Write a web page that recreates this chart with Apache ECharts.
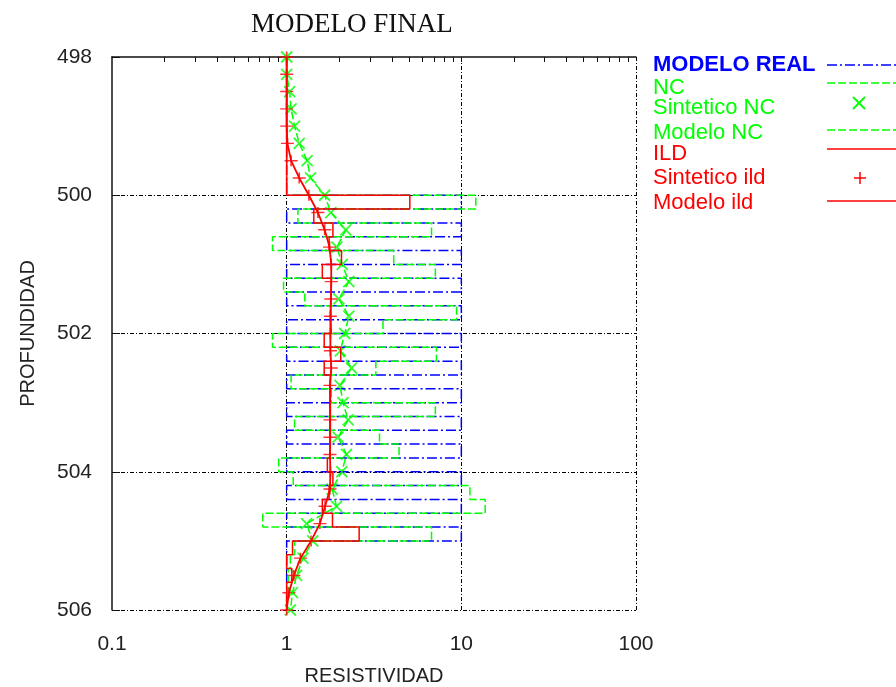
<!DOCTYPE html>
<html>
<head>
<meta charset="utf-8">
<title>Modelo final</title>
<script src="https://cdn.jsdelivr.net/npm/echarts@6/dist/echarts.min.js"></script>
<style>
  body { margin: 0; background: #fff; }
  #main { width: 896px; height: 687px; }
</style>
</head>
<body>
<div id="main"></div>
<script>
// limites de las capas (profundidad)
const limitesCapa = [498, 500.0, 500.2, 500.4, 500.6, 500.8, 501.0, 501.2, 501.4, 501.6, 501.8,
    502.0, 502.2, 502.4, 502.6, 502.8, 503.0, 503.2, 503.4, 503.6, 503.8,
    504.0, 504.2, 504.4, 504.6, 504.8, 505.0, 505.2, 505.4, 505.6, 505.8, 506];

// resistividad de cada capa
const modeloReal = [1, 10, 1, 10, 1, 10, 1, 10, 1, 10, 1, 10, 1, 10, 1, 10, 1, 10, 1, 10, 1,
    10, 1, 10, 1, 10, 1, 1, 1, 1, 1];
const modeloNC = [1.0, 12.1, 1.16, 6.75, 0.83, 4.1, 7.1, 0.96, 1.27, 9.4, 3.56, 0.83, 7.2, 3.24,
    1.06, 1.8, 7.1, 1.11, 3.4, 4.4, 0.9, 1.09, 11.2, 13.7, 0.73, 6.75, 1.11, 1.05, 1.02, 1.0, 1.0];
const modeloILD = [1.0, 5.07, 1.43, 1.84, 1.75, 2.06, 1.6, 1.8, 1.79, 1.79, 1.8, 1.64, 2.04, 1.64,
    1.78, 1.78, 1.78, 1.78, 1.78, 1.76, 1.71, 1.84, 1.75, 1.6, 1.83, 2.6, 1.08, 1.0, 1.07, 1.0, 1.0];

// curvas sinteticas
const profSintetico = [498, 498.25, 498.5, 498.75, 499, 499.25, 499.5, 499.75, 500, 500.25, 500.5,
    500.75, 501, 501.25, 501.5, 501.75, 502, 502.25, 502.5, 502.75, 503, 503.25, 503.5, 503.75,
    504, 504.25, 504.5, 504.75, 505, 505.25, 505.5, 505.75, 506];
const sinteticoNC = [1.0, 1.0, 1.04, 1.06, 1.11, 1.18, 1.31, 1.37, 1.65, 1.79, 2.18, 1.94, 2.08,
    2.27, 1.99, 2.27, 2.15, 2.03, 2.35, 2.02, 2.1, 2.25, 1.97, 2.2, 2.07, 1.82, 1.93, 1.3, 1.41,
    1.24, 1.14, 1.08, 1.05];
const sinteticoILD = [1.0, 1.0, 1.0, 1.0, 1.0, 1.01, 1.06, 1.18, 1.34, 1.51, 1.65, 1.76, 1.8, 1.8,
    1.79, 1.78, 1.78, 1.78, 1.8, 1.77, 1.77, 1.77, 1.77, 1.77, 1.78, 1.77, 1.66, 1.55, 1.38, 1.2,
    1.1, 1.03, 1.0];

const ticksSup = [0.2, 0.3, 0.4, 0.5, 0.6, 0.7, 0.8, 0.9, 1, 2, 3, 4, 5, 6, 7, 8, 9, 10,
    20, 30, 40, 50, 60, 70, 80, 90];

function escalones(valores) {
    let pts = [];
    for (let i = 0; i < valores.length; i++) {
        pts.push([valores[i], limitesCapa[i]]);
        pts.push([valores[i], limitesCapa[i + 1]]);
    }
    return pts;
}

function curva(valores) {
    return valores.map((v, i) => [v, profSintetico[i]]);
}

const AZUL = '#0000ff';
const VERDE = '#00ff00';
const ROJO = '#ff0000';
const grilla = { color: '#000', width: 1, type: [4, 2, 1, 2] };
const fuenteLeyenda = '22px "Liberation Sans"';

let myChart = echarts.init(document.getElementById('main'));

let option = {
    animation: false,
    title: {
        text: 'MODELO FINAL',
        left: 246,
        top: 6,
        textStyle: { fontFamily: 'Liberation Serif', fontSize: 27, fontWeight: 'normal', color: '#111' }
    },
    grid: { left: 112, right: 260, top: 57, bottom: 77, outerBoundsMode: 'none' },
    xAxis: [
        {
            type: 'log', logBase: 10, min: 0.1, max: 100, position: 'bottom',
            axisLine: { show: false },
            axisTick: { show: false },
            axisLabel: { fontFamily: 'Liberation Sans', fontSize: 21, color: '#222', margin: 24 },
            splitLine: { show: true, showMinLine: false, lineStyle: grilla },
            name: 'RESISTIVIDAD', nameLocation: 'middle', nameGap: 56,
            nameTextStyle: { fontFamily: 'Liberation Sans', fontSize: 20, color: '#222' }
        },
        {
            type: 'log', logBase: 10, min: 0.1, max: 100, position: 'top',
            axisLine: { show: true, lineStyle: { color: '#111', width: 1.5 } },
            axisTick: { show: true, inside: true, length: 5, customValues: ticksSup, lineStyle: { color: '#111' } },
            axisLabel: { show: false },
            splitLine: { show: false }
        }
    ],
    yAxis: {
        type: 'value', inverse: true, min: 498, max: 506, interval: 2,
        axisLine: { show: true, lineStyle: { color: '#111', width: 1.5 } },
        axisTick: { show: true, inside: true, length: 8, lineStyle: { color: '#111' } },
        axisLabel: { fontFamily: 'Liberation Sans', fontSize: 21, color: '#222', margin: 20 },
        splitLine: { show: true, showMinLine: false, lineStyle: grilla },
        name: 'PROFUNDIDAD', nameLocation: 'middle', nameGap: 74,
        nameTextStyle: { fontFamily: 'Liberation Sans', fontSize: 20, color: '#222' }
    },
    series: [
        {
            name: 'MODELO REAL', type: 'line', data: escalones(modeloReal), symbol: 'none',
            lineStyle: { color: AZUL, width: 1.5, type: [10, 3, 2, 3] }
        },
        {
            name: 'NC', type: 'line', data: curva(sinteticoNC), symbol: 'none',
            lineStyle: { color: VERDE, width: 1.5, type: [8, 3] }
        },
        {
            name: 'Sintetico NC', type: 'scatter', data: curva(sinteticoNC),
            symbol: 'path://M0 0L10 10M10 0L0 10', symbolSize: 11,
            itemStyle: { color: 'transparent', borderColor: VERDE, borderWidth: 1.8 }
        },
        {
            name: 'Modelo NC', type: 'line', data: escalones(modeloNC), symbol: 'none',
            lineStyle: { color: VERDE, width: 1.5, type: [8, 3] }
        },
        {
            name: 'ILD', type: 'line', data: curva(sinteticoILD), symbol: 'none',
            lineStyle: { color: ROJO, width: 1.8 }
        },
        {
            name: 'Sintetico ild', type: 'scatter', data: curva(sinteticoILD),
            symbol: 'path://M5 0L5 10M0 5L10 5', symbolSize: [13, 11],
            itemStyle: { color: 'transparent', borderColor: ROJO, borderWidth: 1.5 }
        },
        {
            name: 'Modelo ild', type: 'line', data: escalones(modeloILD), symbol: 'none',
            lineStyle: { color: ROJO, width: 1.5 }
        }
    ],
    // leyenda al estilo gnuplot: texto a la izquierda, muestra a la derecha
    graphic: [
        { type: 'text', x: 653, y: 65, style: { text: 'MODELO REAL', fill: AZUL, font: 'bold 22px "Liberation Sans"', verticalAlign: 'middle' } },
        { type: 'text', x: 653, y: 88, style: { text: 'NC', fill: VERDE, font: fuenteLeyenda, verticalAlign: 'middle' } },
        { type: 'text', x: 653, y: 108, style: { text: 'Sintetico NC', fill: VERDE, font: fuenteLeyenda, verticalAlign: 'middle' } },
        { type: 'text', x: 653, y: 133, style: { text: 'Modelo NC', fill: VERDE, font: fuenteLeyenda, verticalAlign: 'middle' } },
        { type: 'text', x: 653, y: 154, style: { text: 'ILD', fill: ROJO, font: fuenteLeyenda, verticalAlign: 'middle' } },
        { type: 'text', x: 653, y: 178, style: { text: 'Sintetico ild', fill: ROJO, font: fuenteLeyenda, verticalAlign: 'middle' } },
        { type: 'text', x: 653, y: 203, style: { text: 'Modelo ild', fill: ROJO, font: fuenteLeyenda, verticalAlign: 'middle' } },
        { type: 'line', shape: { x1: 827, y1: 65, x2: 896, y2: 65 }, style: { stroke: AZUL, lineWidth: 1.5, lineDash: [10, 3, 2, 3] } },
        { type: 'line', shape: { x1: 827, y1: 83, x2: 896, y2: 83 }, style: { stroke: VERDE, lineWidth: 1.5, lineDash: [8, 3] } },
        { type: 'line', shape: { x1: 853, y1: 97, x2: 865, y2: 109 }, style: { stroke: VERDE, lineWidth: 1.8 } },
        { type: 'line', shape: { x1: 865, y1: 97, x2: 853, y2: 109 }, style: { stroke: VERDE, lineWidth: 1.8 } },
        { type: 'line', shape: { x1: 827, y1: 130, x2: 896, y2: 130 }, style: { stroke: VERDE, lineWidth: 1.5, lineDash: [8, 3] } },
        { type: 'line', shape: { x1: 827, y1: 149, x2: 896, y2: 149 }, style: { stroke: ROJO, lineWidth: 1.5 } },
        { type: 'line', shape: { x1: 854, y1: 178, x2: 866, y2: 178 }, style: { stroke: ROJO, lineWidth: 1.5 } },
        { type: 'line', shape: { x1: 860, y1: 172, x2: 860, y2: 184 }, style: { stroke: ROJO, lineWidth: 1.5 } },
        { type: 'line', shape: { x1: 827, y1: 201, x2: 896, y2: 201 }, style: { stroke: ROJO, lineWidth: 1.5 } }
    ]
};

myChart.setOption(option);
</script>
</body>
</html>
